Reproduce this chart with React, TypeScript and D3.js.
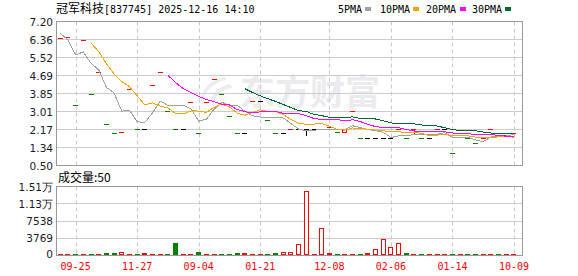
import React from "react";
import * as d3 from "d3";

const stockName = "冠军科技";
const titleCode = "[837745] 2025-12-16 14:10";
const volumeTitle = "成交量:50";
const watermark = "东方财富";

// closes of the 5 bars before the visible window (used only for moving averages)
const priorCloses = [8.86, 7.96, 6.8, 5.67, 6.4];

const closes = [
  6.42, 6.46, 3.3, 6.32, 3.81, 4.85, 2.41, 1.99, 2.08, 4.04,
  2.19, 2.19, 4.23, 4.85, 3.02, 2.19, 2.19, 3.44, 1.99, 3.44,
  4.51, 3.81, 2.8, 2.0, 2.0, 3.48, 3.48, 2.6, 2.0, 2.0,
  2.18, 2.18, 2.18, 2.18, 2.18, 2.27, 2.08, 2.18, 3.03, 1.8,
  1.8, 1.8, 1.8, 1.8, 2.18, 1.8, 2.18, 1.8, 1.8, 2.18,
  2.18, 1.06, 1.84, 1.8, 1.57, 1.76, 2.18, 1.9, 1.94, 1.99,
];
const opens = [
  6.42, 6.46, 3.3, 6.32, 3.81, 4.85, 2.41, 1.99, 2.08, 4.04,
  2.19, 2.19, 4.23, 4.85, 3.02, 2.19, 2.19, 3.44, 1.99, 3.44,
  4.51, 3.81, 2.8, 2.0, 2.0, 3.48, 3.48, 2.6, 2.0, 2.0,
  2.18, 2.18, 2.18, 2.18, 2.18, 2.27, 2.08, 2.02, 3.03, 1.8,
  1.8, 1.8, 1.8, 1.8, 2.18, 1.8, 2.16, 1.8, 1.8, 2.18,
  2.18, 1.06, 1.84, 1.8, 1.57, 1.76, 2.18, 1.9, 1.94, 1.99,
];
const highs = [
  6.42, 6.46, 3.3, 6.32, 3.81, 4.85, 2.41, 1.99, 2.08, 4.04,
  2.19, 2.19, 4.23, 4.85, 3.02, 2.19, 2.19, 3.44, 1.99, 3.44,
  4.51, 3.81, 2.8, 2.0, 2.0, 3.48, 3.48, 2.6, 2.0, 2.0,
  2.18, 2.18, 2.18, 2.18, 2.18, 2.27, 2.08, 2.18, 3.03, 1.8,
  1.8, 1.8, 1.8, 1.8, 2.18, 1.8, 2.22, 1.8, 1.8, 2.18,
  2.18, 1.06, 1.84, 1.8, 1.57, 1.76, 2.18, 1.9, 1.94, 1.99,
];
const lows = [
  6.42, 6.46, 3.3, 6.32, 3.81, 4.85, 2.41, 1.99, 2.08, 4.04,
  2.19, 2.19, 4.23, 4.85, 3.02, 2.19, 2.19, 3.44, 1.99, 3.44,
  4.51, 3.81, 2.8, 2.0, 2.0, 3.48, 3.48, 2.6, 2.0, 2.0,
  2.18, 2.18, 1.86, 2.18, 2.18, 2.27, 2.08, 2.02, 3.03, 1.8,
  1.8, 1.8, 1.8, 1.8, 2.18, 1.8, 1.98, 1.8, 1.8, 2.18,
  2.18, 1.06, 1.84, 1.8, 1.57, 1.76, 2.18, 1.9, 1.94, 1.99,
];
const volumes = [
  120, 100, 150, 100, 130, 100, 440, 440, 800, 100,
  200, 590, 100, 100, 120, 2630, 100, 100, 660, 100,
  100, 120, 120, 440, 440, 100, 100, 120, 590, 660,
  800, 2560, 14040, 100, 6070, 440, 150, 120, 100, 370,
  440, 1320, 3660, 1900, 2780, 440, 100, 150, 100, 100,
  100, 150, 100, 150, 150, 100, 100, 150, 100, 50,
];

const priceTicks = [0.5, 1.3375, 2.175, 3.0125, 3.85, 4.6875, 5.525, 6.3625, 7.2];
const priceTickLabels = ["0.50", "1.34", "2.17", "3.01", "3.85", "4.69", "5.52", "6.36", "7.20"];
const volTicks = [0, 3769, 7538, 11307, 15076];
const volTickLabels = ["0", "3769", "7538", "1.13万", "1.51万"];
const xTickIndex = [2, 10, 18, 26, 35, 43, 51, 59];
const xTickLabels = ["09-25", "11-27", "09-04", "01-21", "12-08", "02-06", "01-14", "10-09"];

const maPeriods = [5, 10, 20, 30];
const maNames = ["5PMA", "10PMA", "20PMA", "30PMA"];
const maColors = ["#a0a0a0", "#f5a300", "#ff00ff", "#006633"];

const RED = "#ff0000";
const GREEN = "#008000";
const BLACK = "#000000";
const CJK = "'Noto Sans CJK SC', sans-serif";
const MONO = "'DejaVu Sans Mono', monospace";
const SANS = "'DejaVu Sans', sans-serif";

export default function App() {
  const W = 578, H = 276;
  const left = 56, right = 522;
  const pTop = 21.5, pBot = 165.5, vTop = 186.5, vBot = 255.5;
  const n = closes.length;

  const x = d3
    .scaleBand<number>()
    .domain(d3.range(n))
    .range([left, right])
    .paddingInner(0.35)
    .paddingOuter(0.475)
    .align(0.24);
  const bw = x.bandwidth();
  const cx = (i: number) => (x(i) as number) + bw / 2;
  const yP = d3.scaleLinear().domain([0.5, 7.2]).range([pBot, pTop]);
  const yV = d3.scaleLinear().domain([0, 15076]).range([vBot, vTop]);

  const all = [...priorCloses, ...closes];
  const mas = maPeriods.map((p) =>
    closes.map((_, i) => {
      const j = i + priorCloses.length;
      if (j < p - 1) return null;
      return d3.mean(all.slice(j - p + 1, j + 1)) as number;
    })
  );
  const line = d3
    .line<number | null>()
    .defined((d) => d != null)
    .x((_, i) => cx(i))
    .y((d) => yP(d as number));

  const dir = (i: number) => {
    const c = closes[i], o = opens[i];
    if (c > o) return 1;
    if (c < o) return -1;
    const prev = i === 0 ? priorCloses[priorCloses.length - 1] : closes[i - 1];
    if (c > prev) return 1;
    if (c < prev) return -1;
    return 0;
  };
  const colorOf = (d: number) => (d > 0 ? RED : d < 0 ? GREEN : BLACK);

  const legendX = [338, 380, 426, 472];
  const legendSqX = [365, 413, 460, 505];

  return (
    <svg
      width={W}
      height={H}
      style={{ position: "absolute", left: 0, top: 0, background: "#fff" }}
    >
      <rect x={0} y={0} width={W} height={H} fill="#fff" />
      {/* watermark */}
      <g>
        <path
          d="M226,77 C206,80 196,96 204,108 C200,96 210,84 226,80 Z M230,84 C214,88 208,98 214,108 C212,98 220,90 232,88 Z"
          fill="#ececf0"
        />
        <text x={240} y={105} fontFamily={CJK} fontSize={35} fontWeight={700} fill="#ebebef">
          {watermark}
        </text>
      </g>

      {/* title */}
      <text x={56} y={12.5} fontFamily={CJK} fontSize={12} fill="#000">
        {stockName}
      </text>
      <text x={104} y={12.5} fontFamily={MONO} fontSize={10} fill="#000">
        {titleCode}
      </text>
      {/* legend */}
      {maNames.map((name, k) => (
        <g key={name}>
          <text x={legendX[k]} y={12.5} fontFamily={MONO} fontSize={10} fill="#000">
            {name}
          </text>
          <rect x={legendSqX[k]} y={7} width={6} height={4} fill={maColors[k]} />
        </g>
      ))}

      {/* grid */}
      {priceTicks.map((t) => (
        <line key={"pg" + t} x1={left} x2={right} y1={yP(t)} y2={yP(t)} stroke="#cccccc" shapeRendering="crispEdges" />
      ))}
      {volTicks.map((t) => (
        <line key={"vg" + t} x1={left} x2={right} y1={yV(t)} y2={yV(t)} stroke="#cccccc" shapeRendering="crispEdges" />
      ))}
      {xTickIndex.map((i) => (
        <g key={"xg" + i}>
          <line x1={Math.round(cx(i)) + 0.5} x2={Math.round(cx(i)) + 0.5} y1={pTop} y2={pBot} stroke="#c8c8c8" strokeDasharray="4,3" />
          <line x1={Math.round(cx(i)) + 0.5} x2={Math.round(cx(i)) + 0.5} y1={vTop} y2={vBot} stroke="#c8c8c8" strokeDasharray="4,3" />
        </g>
      ))}

      {/* candles */}
      {closes.map((c, i) => {
        const d = dir(i);
        const col = colorOf(d);
        const o = opens[i];
        const xc = Math.round(cx(i)) + 0.5;
        const x0 = Math.round(x(i) as number);
        const top = yP(Math.max(o, c));
        const bot = yP(Math.min(o, c));
        const hasWick = highs[i] > Math.max(o, c) || lows[i] < Math.min(o, c);
        return (
          <g key={"c" + i} shapeRendering="crispEdges">
            {hasWick && <line x1={xc} x2={xc} y1={yP(highs[i])} y2={yP(lows[i])} stroke={col} />}
            {bot - top < 1 ? (
              <line x1={x0} x2={x0 + Math.round(bw)} y1={Math.round(top) + 0.5} y2={Math.round(top) + 0.5} stroke={col} />
            ) : (
              <rect
                x={x0 + 0.5}
                y={Math.round(top) + 0.5}
                width={Math.round(bw) - 1}
                height={Math.round(bot - top)}
                fill={d > 0 ? "#fff" : col}
                stroke={col}
              />
            )}
          </g>
        );
      })}

      {/* moving averages */}
      {mas.map((m, k) => (
        <path key={"ma" + k} d={line(m) || ""} fill="none" stroke={maColors[k]} strokeWidth={1} shapeRendering="crispEdges" />
      ))}

      {/* volume bars */}
      {volumes.map((v, i) => {
        const d = dir(i);
        const up = d >= 0;
        const col = up ? RED : GREEN;
        const x0 = Math.round(x(i) as number);
        const base = vBot - 1;
        const top = Math.round(yV(v)) + 0.5;
        const h = base - top;
        if (h < 1) {
          return (
            <line
              key={"v" + i}
              x1={x0}
              x2={x0 + Math.round(bw)}
              y1={base}
              y2={base}
              stroke={col}
              shapeRendering="crispEdges"
            />
          );
        }
        return (
          <rect
            key={"v" + i}
            x={x0 + 0.5}
            y={top}
            width={Math.round(bw) - 1}
            height={h}
            fill={up ? "#fff" : col}
            stroke={col}
            shapeRendering="crispEdges"
          />
        );
      })}

      {/* borders */}
      <rect x={left + 0.5} y={pTop} width={right - left} height={pBot - pTop} fill="none" stroke="#999" shapeRendering="crispEdges" />
      <rect x={left + 0.5} y={vTop} width={right - left} height={vBot - vTop} fill="none" stroke="#999" shapeRendering="crispEdges" />

      {/* y labels */}
      {priceTicks.map((t, k) => (
        <text key={"pl" + t} x={53} y={yP(t)} textAnchor="end" dominantBaseline="central" fontFamily={SANS} fontSize={10.5} fill="#1a1a2a">
          {priceTickLabels[k]}
        </text>
      ))}
      {volTicks.map((t, k) => (
        <text key={"vl" + t} x={53} y={yV(t) - (t === 0 ? 2 : 0)} textAnchor="end" dominantBaseline="central" fontFamily={SANS} fontSize={10.5} fill="#1a1a2a">
          {volTickLabels[k]}
        </text>
      ))}
      <text x={58} y={182} fontFamily={CJK} fontSize={12} fill="#000">
        {volumeTitle}
      </text>

      {/* x labels */}
      {xTickIndex.map((i, k) => (
        <text key={"xl" + i} x={cx(i)} y={270} textAnchor="middle" fontFamily={MONO} fontSize={10} fill={RED}>
          {xTickLabels[k]}
        </text>
      ))}
    </svg>
  );
}
